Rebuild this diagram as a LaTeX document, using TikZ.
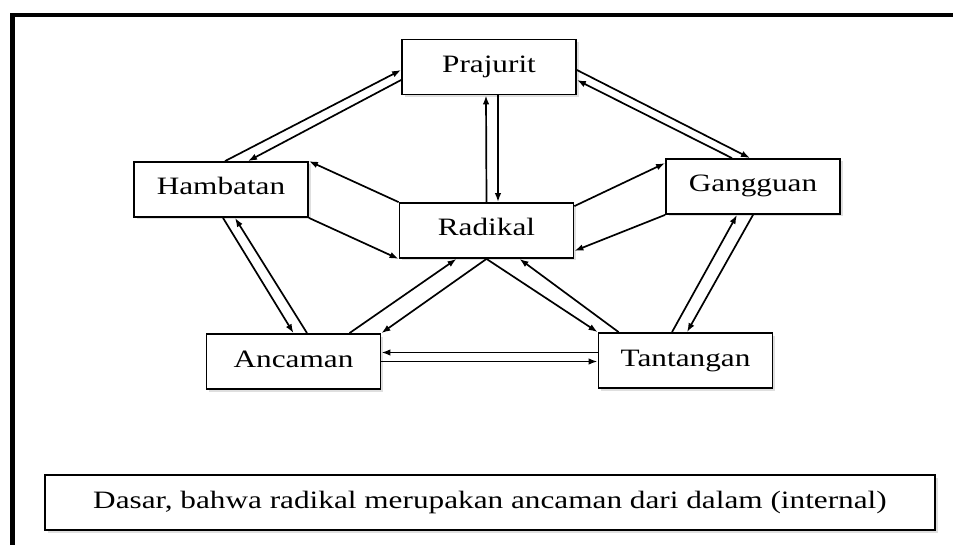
\documentclass[tikz,border=0pt]{standalone}
\usepackage{fontspec}
\setmainfont{Liberation Serif}[FakeStretch=1.25]
\usepackage{tikz}
\usetikzlibrary{arrows,arrows.meta,shapes,positioning,calc,shadows}

\begin{document}
\begin{tikzpicture}[x=1pt, y=-1pt,
        kotak/.style={draw, line width=1.8pt, fill=white, minimum width=174pt, minimum height=55pt,
            font=\fontsize{25}{28}\selectfont, text height=16pt, text depth=5pt,
            drop shadow={shadow xshift=2.5pt, shadow yshift=-2.5pt, opacity=0.25}},
        panah/.style={->, >={Latex[length=9pt,width=6.5pt]}, line width=1.7pt}]
        \useasboundingbox (0,0) rectangle (953,545);
        \draw[line width=4.5pt] (12.5,545) -- (12.5,15) -- (953,15);

        \node[kotak] (praj) at (489,67) {Prajurit};
        \node[kotak] (rad) at (486.5,230.5) {Radikal};
        \node[kotak] (hamb) at (221,189.5) {Hambatan};
        \node[kotak] (gang) at (753,186.5) {Gangguan};
        \node[kotak] (anc) at (293.5,361.5) {Ancaman};
        \node[kotak] (tant) at (685.5,360.5) {Tantangan};
        \node[kotak, minimum width=890pt] (dasar) at (490,502.5) {Dasar, bahwa radikal merupakan ancaman dari dalam (internal)};

        \draw[panah] ($(hamb.north)+(4,0)$) -- ($(praj.west)+(0,3)$);
        \draw[panah] ($(praj.west)+(0,13)$) -- ($(hamb.north)+(27,0)$);
        \draw[panah] ($(praj.east)+(0,3)$) -- ($(gang.north)+(-3,0)$);
        \draw[panah] ($(gang.north)+(-21,0)$) -- ($(praj.east)+(0,13)$);

        \draw[panah] (rad.north) -- ($(praj.south)+(-3,0)$);
        \draw[panah] ($(praj.south)+(9,0)$) -- ($(rad.north)+(11.5,0)$);

        \draw[panah] (rad.north west) -- (hamb.north east);
        \draw[panah] (hamb.south east) -- (rad.south west);
        \draw[panah] ($(rad.north east)+(0,4)$) -- ($(gang.north west)+(0,5)$);
        \draw[panah] (gang.south west) -- ($(rad.south east)+(0,-8)$);

        \draw[panah] ($(hamb.south)+(2,0)$) -- (anc.north);
        \draw[panah] ($(anc.north)+(13.5,0)$) -- ($(hamb.south)+(14,0)$);
        \draw[panah] ($(tant.north)+(-13.5,0)$) -- ($(gang.south)+(-16,0)$);
        \draw[panah] (gang.south) -- ($(tant.north)+(1.5,0)$);

        \draw[panah] ($(anc.north)+(56,0)$) -- ($(rad.south)+(-30,0)$);
        \draw[panah] (rad.south) -- (anc.north east);
        \draw[panah] (rad.south) -- (tant.north west);
        \draw[panah] ($(tant.north west)+(21,0)$) -- ($(rad.south)+(33,0)$);

        \draw[panah] ($(tant.west)+(0,-8)$) -- ($(anc.east)+(0,-9)$);
        \draw[panah] (anc.east) -- ($(tant.west)+(0,1)$);
    \end{tikzpicture}
\end{document}
